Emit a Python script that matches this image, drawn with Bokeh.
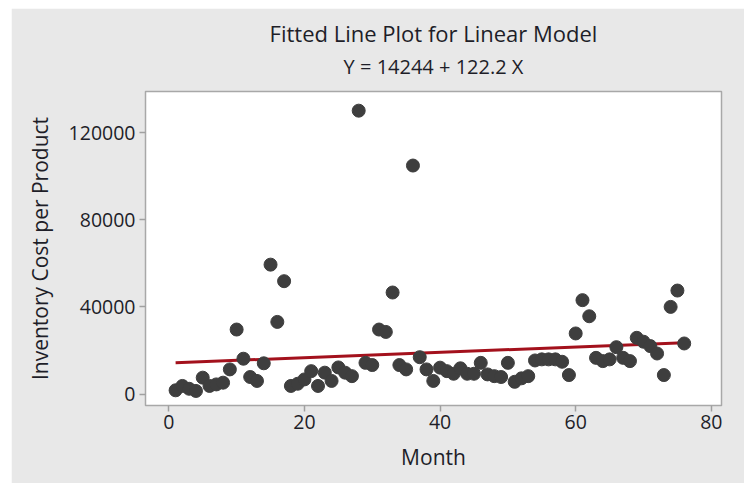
from bokeh.plotting import figure
from bokeh.models import Range1d, FixedTicker, BasicTickFormatter, Title, ColumnDataSource
from bokeh.embed import file_html
from bokeh.resources import INLINE

# ---- data ----
months = list(range(1, 77))
cost = [1700, 3700, 2400, 1400, 7500, 3700, 4400, 5200, 11300, 29600,
        16200, 7800, 6000, 14100, 59400, 33100, 51800, 3700, 4700, 6700,
        10500, 3700, 9800, 6000, 12200, 9800, 8200, 130100, 14300, 13300,
        29600, 28500, 46600, 13300, 11300, 104900, 16900, 11300, 6000, 12100,
        10500, 9300, 11800, 9300, 9300, 14300, 9000, 8200, 7800, 14300,
        5600, 7200, 8200, 15400, 15900, 15900, 15900, 14800, 8700, 27800,
        43100, 35700, 16600, 15100, 15900, 21500, 16600, 15100, 25800, 24000,
        22000, 18600, 8700, 40000, 47500, 23200]
intercept = 14244
slope = 122.2
x_ticks = [0, 20, 40, 60, 80]
y_ticks = [0, 40000, 80000, 120000]
title_text = "Fitted Line Plot for Linear Model"
subtitle_text = "Y = 14244 + 122.2 X"

fit_x = [months[0], months[-1]]
fit_y = [intercept + slope * v for v in fit_x]

FONT = "Open Sans"
TXT = "#1e1e28"

p = figure(width=733, height=475, output_backend="svg", toolbar_location=None,
           x_range=Range1d(-3.44, 81.5), y_range=Range1d(-5280, 138900),
           min_border_left=134, min_border_right=23, min_border_top=83, min_border_bottom=78)
p.margin = (8, 0, 0, 11)

p.border_fill_color = "#E8E8E8"
p.background_fill_color = "white"
p.outline_line_color = "#A8A8A8"
p.outline_line_width = 1.5
p.xgrid.visible = False
p.ygrid.visible = False

sub = Title(text=subtitle_text, align="center", text_font=FONT, text_font_size="20px",
            text_font_style="normal", text_color=TXT, standoff=24)
p.add_layout(sub, "above")
main = Title(text=title_text, align="center", text_font=FONT, text_font_size="22px",
             text_font_style="normal", text_color=TXT, standoff=-18)
p.add_layout(main, "above")

src = ColumnDataSource(dict(x=months, y=cost))
p.line(fit_x, fit_y, line_color="#A3111C", line_width=3)
p.scatter("x", "y", source=src, size=13, fill_color="#3E3E3E", line_color="#3E3E3E")

for ax, ticks in ((p.xaxis[0], x_ticks), (p.yaxis[0], y_ticks)):
    ax.ticker = FixedTicker(ticks=ticks)
    ax.formatter = BasicTickFormatter(use_scientific=False)
    ax.axis_line_color = None
    ax.major_tick_line_color = "#A0A0A0"
    ax.major_tick_line_width = 1.5
    ax.major_tick_in = 0
    ax.major_tick_out = 6
    ax.minor_tick_line_color = None
    ax.major_label_text_font = FONT
    ax.major_label_text_font_size = "19.5px"
    ax.major_label_text_color = TXT
    ax.axis_label_text_font = FONT
    ax.axis_label_text_font_size = "21px"
    ax.axis_label_text_font_style = "normal"
    ax.axis_label_text_color = TXT

p.xaxis.axis_label = "Month"
p.yaxis.axis_label = "Inventory Cost per Product"
p.xaxis.major_label_standoff = 3
p.yaxis.major_label_standoff = 4
p.xaxis.axis_label_standoff = 11
p.yaxis.axis_label_standoff = 12

open("out.html", "w").write(file_html(p, INLINE))
